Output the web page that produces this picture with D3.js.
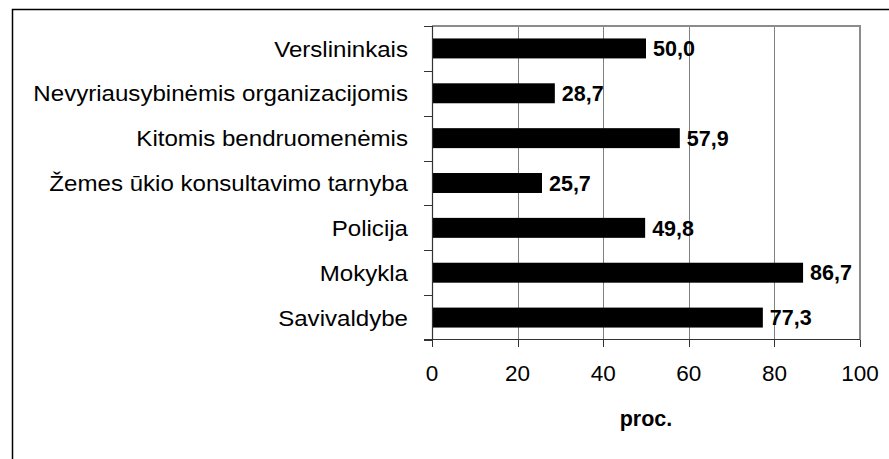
<!DOCTYPE html>
<html>
<head>
<meta charset="utf-8">
<script src="https://cdn.jsdelivr.net/npm/d3@7"></script>
<style>
    body { margin: 0; background: #fff; }
    svg { display: block; font-family: "Liberation Sans", Arial, sans-serif; }
    .grid { stroke: #808080; stroke-width: 1; }
    .cat { font-size: 22.5px; fill: #000; }
    .tick-label { font-size: 22.5px; fill: #000; }
    .val { font-size: 21.5px; font-weight: bold; fill: #000; }
</style>
</head>
<body>
<svg width="889" height="459"></svg>
<script>
const width = 889;
const height = 459;
const svg = d3.select("svg");

// data
const categories = [
    "Verslininkais",
    "Nevyriausybinėmis organizacijomis",
    "Kitomis bendruomenėmis",
    "Žemes ūkio konsultavimo tarnyba",
    "Policija",
    "Mokykla",
    "Savivaldybe"
];
const values = [50.0, 28.7, 57.9, 25.7, 49.8, 86.7, 77.3];
const xTicks = [0, 20, 40, 60, 80, 100];
const xTitle = "proc.";

const plot = { left: 432, right: 860, top: 26, bottom: 340 };

const x = d3.scaleLinear().domain([0, 100]).range([plot.left, plot.right]);
const y = d3.scaleBand()
    .domain(categories)
    .range([plot.top, plot.bottom])
    .paddingInner(0.555)
    .paddingOuter(0.2775);

const fmt = v => v.toFixed(1).replace(".", ",");

// the original text is a little wider than plain Arial
function stretch(sel, k) {
    sel.each(function () {
        const w = this.getComputedTextLength();
        d3.select(this)
            .attr("textLength", w * k)
            .attr("lengthAdjust", "spacingAndGlyphs");
    });
}

// outer frame (runs off the right and bottom of the picture)
svg.append("rect")
    .attr("x", 12.5)
    .attr("y", 9.5)
    .attr("width", 900)
    .attr("height", 470)
    .attr("fill", "none")
    .attr("stroke", "#000")
    .attr("stroke-width", 1.5);

// vertical gridlines
svg.selectAll(".grid")
    .data(xTicks.slice(1, -1))
    .enter()
    .append("line")
    .attr("class", "grid")
    .attr("x1", d => Math.round(x(d)) + 0.5)
    .attr("x2", d => Math.round(x(d)) + 0.5)
    .attr("y1", plot.top)
    .attr("y2", plot.bottom);

// plot area top / right border
svg.append("path")
    .attr("d", `M${plot.left},${plot.top}H${plot.right}V${plot.bottom}`)
    .attr("fill", "none")
    .attr("stroke", "#8c8c8c")
    .attr("stroke-width", 2);

// bars
svg.selectAll(".bar")
    .data(values)
    .enter()
    .append("rect")
    .attr("class", "bar")
    .attr("x", x(0))
    .attr("y", (d, i) => y(categories[i]))
    .attr("width", d => x(d) - x(0))
    .attr("height", y.bandwidth())
    .attr("fill", "#000");

// value labels
svg.selectAll(".val")
    .data(values)
    .enter()
    .append("text")
    .attr("class", "val")
    .attr("x", d => x(d) + 7)
    .attr("y", (d, i) => y(categories[i]) + y.bandwidth() / 2)
    .attr("dy", "0.36em")
    .text(d => fmt(d));

// category axis
const step = y.step();
const boundaries = d3.range(categories.length + 1).map(i => plot.top + i * step);
const yAxis = svg.append("g");
yAxis.append("line")
    .attr("x1", plot.left + 0.5).attr("x2", plot.left + 0.5)
    .attr("y1", plot.top).attr("y2", plot.bottom)
    .attr("stroke", "#333").attr("stroke-width", 1.2);
yAxis.selectAll(".ytick")
    .data(boundaries)
    .enter()
    .append("line")
    .attr("class", "ytick")
    .attr("x1", plot.left - 8).attr("x2", plot.left)
    .attr("y1", d => Math.round(d) + 0.5).attr("y2", d => Math.round(d) + 0.5)
    .attr("stroke", "#333");
yAxis.selectAll(".cat")
    .data(categories)
    .enter()
    .append("text")
    .attr("class", "cat")
    .attr("x", plot.left - 24)
    .attr("y", d => y(d) + y.bandwidth() / 2)
    .attr("dy", "0.36em")
    .attr("text-anchor", "end")
    .text(d => d)
    .call(stretch, 1.07);

// value axis
const xAxis = svg.append("g");
xAxis.append("line")
    .attr("x1", plot.left - 8).attr("x2", plot.right)
    .attr("y1", plot.bottom - 0.5).attr("y2", plot.bottom - 0.5)
    .attr("stroke", "#333").attr("stroke-width", 1.2);
xAxis.selectAll(".xtick")
    .data(xTicks)
    .enter()
    .append("line")
    .attr("class", "xtick")
    .attr("x1", d => Math.round(x(d)) + 0.5).attr("x2", d => Math.round(x(d)) + 0.5)
    .attr("y1", plot.bottom).attr("y2", plot.bottom + 7)
    .attr("stroke", "#333");
xAxis.selectAll(".tick-label")
    .data(xTicks)
    .enter()
    .append("text")
    .attr("class", "tick-label")
    .attr("x", d => x(d))
    .attr("y", 381)
    .attr("text-anchor", "middle")
    .text(d => d);

svg.append("text")
    .attr("class", "val")
    .attr("x", (plot.left + plot.right) / 2)
    .attr("y", 426)
    .attr("text-anchor", "middle")
    .text(xTitle);
</script>
</body>
</html>
